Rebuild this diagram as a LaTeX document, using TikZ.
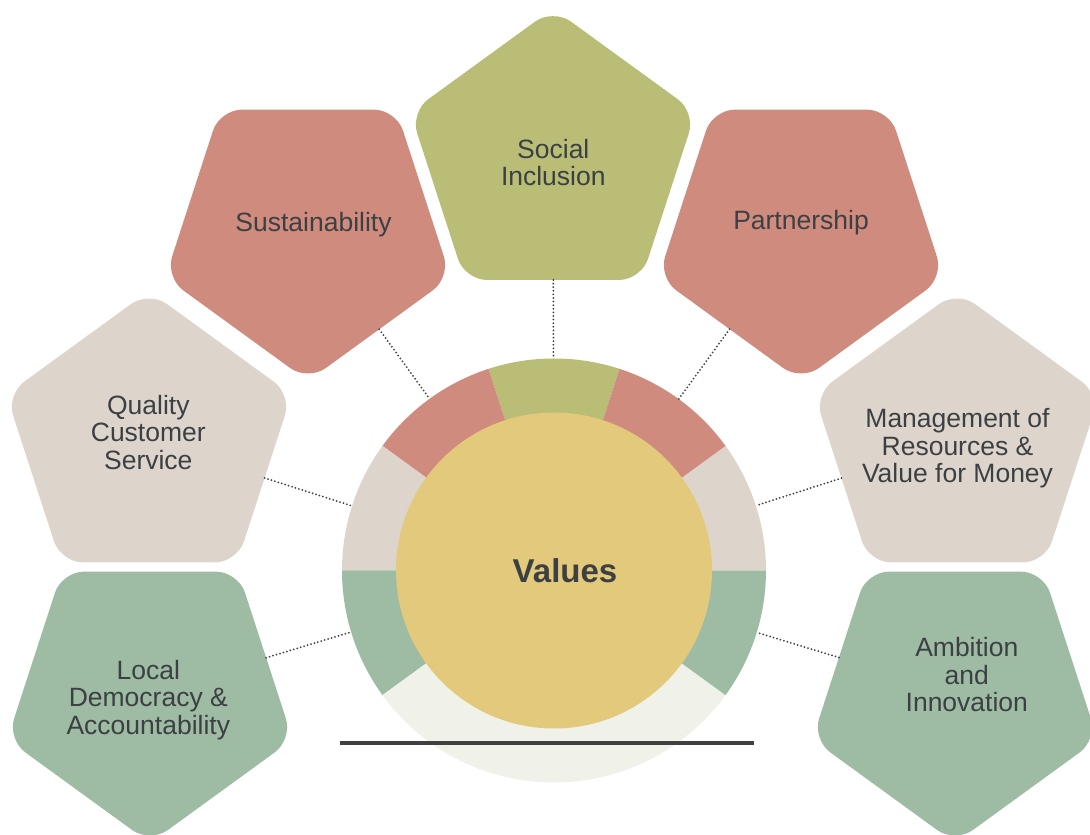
\documentclass[tikz,border=0pt]{standalone}
\usepackage{fontspec}
\setmainfont{Liberation Sans}
\usetikzlibrary{shapes.geometric}

\definecolor{rosered}{HTML}{CF8B7D}
\definecolor{olive}{HTML}{B9BD76}
\definecolor{sand}{HTML}{DDD5CC}
\definecolor{sage}{HTML}{9EBBA3}
\definecolor{gold}{HTML}{E3C97B}
\definecolor{mist}{HTML}{F0F1E9}
\definecolor{ink}{HTML}{3D4043}
\definecolor{dotgray}{HTML}{404040}
\definecolor{barcol}{HTML}{404040}

\begin{document}
\begin{tikzpicture}[x=1pt, y=1pt,
  petal/.style={regular polygon, regular polygon sides=5, minimum size=300pt,
                inner sep=0pt, outer sep=0pt, rounded corners=22pt},
  petaldown/.style={petal, shape border rotate=180},
  lbl/.style={font=\fontsize{26.5}{27.5}\selectfont, text=ink, align=center, inner sep=0pt},
  link/.style={draw=dotgray, line width=2pt, line cap=round, dash pattern=on 0pt off 3.6pt}
]
\useasboundingbox (0,0) rectangle (1090,835);
\clip (0,0) rectangle (1090,835);
\fill[white] (0,0) rectangle (1090,835);

% hub: coloured ring with the central disc
\coordinate (c) at (554,264.5);
\node[circle, minimum size=424pt, inner sep=0pt, outer sep=0pt] (ring) at (c) {};
\foreach \a/\b/\col in {72/108/olive, 108/144/rosered, 144/180/sand, 180/216/sage,
                        216/324/mist, 324/360/sage, 0/36/sand, 36/72/rosered}{
  \fill[\col] (c) -- ++(\a:212) arc[start angle=\a, end angle=\b, radius=212] -- cycle;
}
\node[circle, minimum size=316pt, inner sep=0pt, fill=gold] (core) at (c) {};
\node[font=\fontsize{33}{36}\bfseries\selectfont, text=ink, inner sep=0pt] (valtxt) at (565,264.7) {Values};

% base bar
\coordinate (barL) at (340,92);
\coordinate (barR) at (754,92);
\draw[barcol, line width=4.5pt] (barL) -- (barR);

% value pentagons
\node[petal, fill=olive] (social) at (553,676.4) {};
\node[petaldown, fill=rosered] (sust) at (308,604) {};
\node[petaldown, fill=rosered] (partner) at (801,604) {};
\node[petal, fill=sand] (quality) at (149,394) {};
\node[petal, fill=sand] (manage) at (957,394) {};
\node[petaldown, fill=sage] (local) at (150,142) {};
\node[petaldown, fill=sage] (ambition) at (955,142) {};

% labels
\node[lbl] (socialtxt) at (553.3,672.4) {Social\\Inclusion};
\node[lbl] (susttxt) at (313.5,610) {Sustainability};
\node[lbl] (partnertxt) at (801,612) {Partnership};
\node[lbl] (qualitytxt) at (148.3,402.7) {Quality\\Customer\\Service};
\node[lbl] (managetxt) at (957.5,386.7) {Management of\\Resources \&\\Value for Money};
\node[lbl] (localtxt) at (148.3,135.2) {Local\\Democracy \&\\Accountability};
\node[lbl] (ambitiontxt) at (966.8,160.2) {Ambition\\and\\Innovation};

% dotted connectors to the ring
\foreach \p in {social, sust, partner, quality, manage, local, ambition}{
  \draw[link] (\p) -- (ring);
}
\end{tikzpicture}
\end{document}
